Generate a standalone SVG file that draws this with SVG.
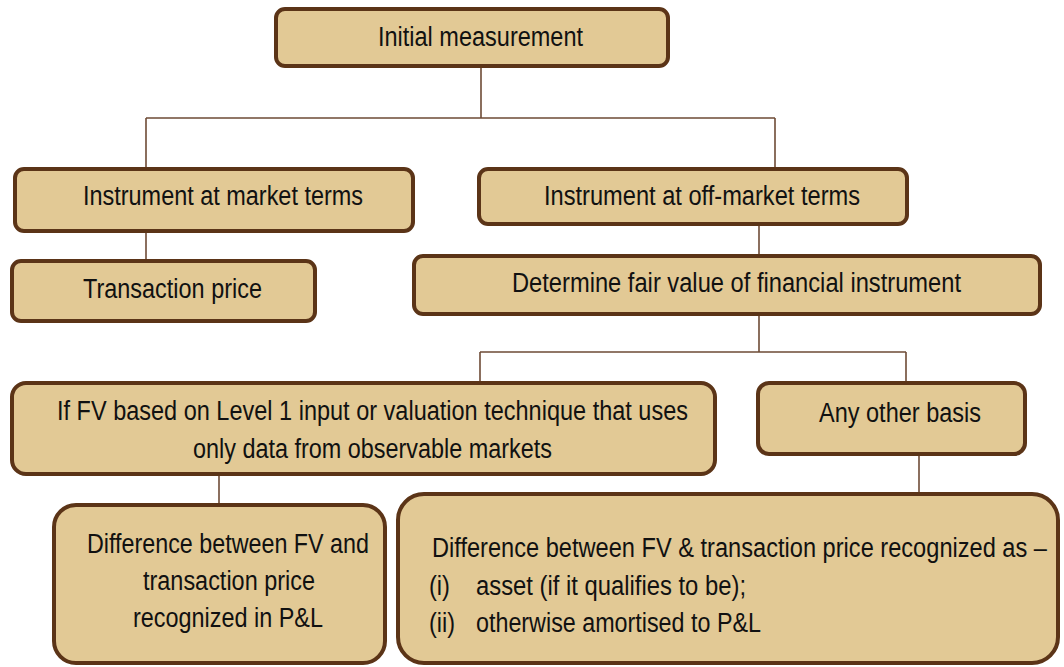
<svg xmlns="http://www.w3.org/2000/svg" width="1064" height="667" viewBox="0 0 1064 667">
<style>
.box{fill:#E2C995;stroke:#5B3417;stroke-width:4}
.conn{fill:none;stroke:#6E4B36;stroke-width:1.6}
text{font-family:"Liberation Sans",Arial,sans-serif;font-size:27px;fill:#111}
</style>
<rect width="1064" height="667" fill="#FFFFFF"/>
<g id="connectors">
<path class="conn" d="M481 67V118M146 118H775M146 118V168M775 118V168"/>
<path class="conn" d="M146 233V260"/>
<path class="conn" d="M759 225V255"/>
<path class="conn" d="M759 316V352M480 352H906M480 352V382M906 352V382"/>
<path class="conn" d="M219 464V504"/>
<path class="conn" d="M919 455V494"/>
</g>
<g id="n-initial">
<rect class="box" x="276" y="9" width="392" height="57" rx="9"/>
<text x="378" y="46" textLength="205" lengthAdjust="spacingAndGlyphs">Initial measurement</text>
</g>
<g id="n-market">
<rect class="box" x="15" y="169" width="398" height="62" rx="9"/>
<text x="83" y="205" textLength="280" lengthAdjust="spacingAndGlyphs">Instrument at market terms</text>
</g>
<g id="n-transaction">
<rect class="box" x="12" y="261" width="303" height="60" rx="9"/>
<text x="83" y="298" textLength="179" lengthAdjust="spacingAndGlyphs">Transaction price</text>
</g>
<g id="n-offmarket">
<rect class="box" x="479" y="169" width="428" height="55" rx="9"/>
<text x="544" y="205" textLength="316" lengthAdjust="spacingAndGlyphs">Instrument at off-market terms</text>
</g>
<g id="n-determine">
<rect class="box" x="414" y="256" width="626" height="58" rx="9"/>
<text x="512" y="292" textLength="449" lengthAdjust="spacingAndGlyphs">Determine fair value of financial instrument</text>
</g>
<g id="n-level1">
<rect class="box" x="12" y="383" width="703" height="91" rx="14"/>
<text x="57" y="420" textLength="631" lengthAdjust="spacingAndGlyphs">If FV based on Level 1 input or valuation technique that uses</text>
<text x="193" y="458" textLength="359" lengthAdjust="spacingAndGlyphs">only data from observable markets</text>
</g>
<g id="n-other">
<rect class="box" x="758" y="383" width="267" height="71" rx="11"/>
<text x="819" y="422" textLength="162" lengthAdjust="spacingAndGlyphs">Any other basis</text>
</g>
<g id="n-pl">
<rect class="box" x="54" y="505" width="331" height="158" rx="22"/>
<text x="87" y="553" textLength="282" lengthAdjust="spacingAndGlyphs">Difference between FV and</text>
<text x="143" y="590" textLength="172" lengthAdjust="spacingAndGlyphs">transaction price</text>
<text x="133" y="627" textLength="190" lengthAdjust="spacingAndGlyphs">recognized in P&amp;L</text>
</g>
<g id="n-asset">
<rect class="box" x="398" y="494" width="660" height="169" rx="26"/>
<text x="432" y="557" textLength="615" lengthAdjust="spacingAndGlyphs">Difference between FV &amp; transaction price recognized as –</text>
<text x="429" y="595" textLength="21" lengthAdjust="spacingAndGlyphs">(i)</text>
<text x="476" y="595" textLength="270" lengthAdjust="spacingAndGlyphs">asset (if it qualifies to be);</text>
<text x="429" y="632" textLength="26" lengthAdjust="spacingAndGlyphs">(ii)</text>
<text x="476" y="632" textLength="285" lengthAdjust="spacingAndGlyphs">otherwise amortised to P&amp;L</text>
</g>
</svg>
